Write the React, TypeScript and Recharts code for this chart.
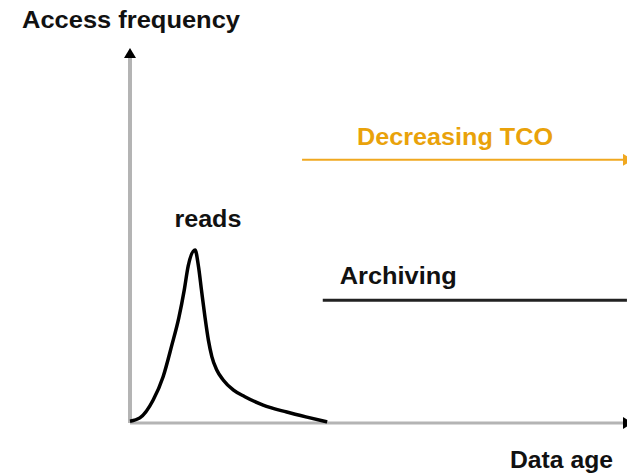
import React from "react";
import { LineChart, Line, XAxis, YAxis, ReferenceLine, ReferenceDot } from "recharts";

// Curve of access frequency versus data age
const ages = [0, 2.0, 4.7, 6.7, 8.5, 9.9, 11.0, 11.8, 13.2, 13.9, 14.5, 15.2, 15.9, 16.6, 17.6, 18.9, 21.0, 23.3, 27.0, 31.8, 35.9, 40.0];
const freqs = [0.5, 1.4, 6.3, 12.6, 21.4, 28.8, 36.4, 43.0, 47.4, 42.8, 36.4, 29.1, 22.7, 18.2, 14.5, 11.8, 9.0, 7.2, 4.9, 3.0, 1.6, 0.3];

// Axis extents
const ageDomain = [0, 100];
const freqDomain = [0, 100];

// Horizontal annotation lines: [startAge, endAge], level
const tcoRange = [34.9, 100];
const tcoLevel = 72.1;
const archRange = [39.1, 100.8];
const archLevel = 33.6;

// Text labels
const yTitle = "Access frequency";
const xTitle = "Data age";
const tcoLabel = "Decreasing TCO";
const archLabel = "Archiving";
const peakLabel = "reads";
const peakLabelPos = { age: 15.8, freq: 53.7 };

const data = ages.map((a, i) => ({ age: a, freq: freqs[i] }));

const FONT = "'Liberation Sans', Arial, sans-serif";
const ORANGE = "#f0a820";
const ORANGE_TEXT = "#e9a20a";
const TEXT = "#111";
const AXIS = "#b4b4b4";

export default function App() {
  return (
    <div style={{ position: "absolute", left: 0, top: 0, width: 627, height: 473, background: "#fff" }}>
      <LineChart
        width={627}
        height={473}
        data={data}
        margin={{ top: 58, right: 4, bottom: 50, left: 130 }}
      >
        <defs>
          <marker id="arrowBlack" viewBox="0 0 10 12" refX="0" refY="6" markerWidth="10" markerHeight="12" markerUnits="userSpaceOnUse" orient="auto-start-reverse">
            <path d="M0,0 L10,6 L0,12 Z" fill="#000" />
          </marker>
          <marker id="arrowOrange" viewBox="0 0 10 12" refX="0" refY="6" markerWidth="10" markerHeight="12" markerUnits="userSpaceOnUse" orient="auto-start-reverse">
            <path d="M0,0 L10,6 L0,12 Z" fill={ORANGE} />
          </marker>
        </defs>
        <XAxis type="number" dataKey="age" domain={ageDomain} hide />
        <YAxis type="number" domain={freqDomain} hide />
        {/* x axis */}
        <ReferenceLine
          segment={[{ x: ageDomain[0], y: freqDomain[0] }, { x: ageDomain[1], y: freqDomain[0] }]}
          stroke={AXIS}
          strokeWidth={3}
          ifOverflow="visible"
          markerEnd="url(#arrowBlack)"
          label={(p: any) => {
            const vb = p.viewBox || {};
            return (
              <text x={vb.x + vb.width - 10} y={vb.y + 45} textAnchor="end" fontFamily={FONT} fontWeight="bold" fontSize={24} fill={TEXT} textLength={103} lengthAdjust="spacingAndGlyphs">
                {xTitle}
              </text>
            );
          }}
        />
        {/* y axis */}
        <ReferenceLine
          segment={[{ x: ageDomain[0], y: freqDomain[0] }, { x: ageDomain[0], y: freqDomain[1] }]}
          stroke={AXIS}
          strokeWidth={4}
          ifOverflow="visible"
          markerEnd="url(#arrowBlack)"
          label={(p: any) => {
            const vb = p.viewBox || {};
            return (
              <text x={vb.x - 108} y={vb.y - 30} textAnchor="start" fontFamily={FONT} fontWeight="bold" fontSize={24} fill={TEXT} textLength={218} lengthAdjust="spacingAndGlyphs">
                {yTitle}
              </text>
            );
          }}
        />
        <ReferenceLine
          segment={[{ x: tcoRange[0], y: tcoLevel }, { x: tcoRange[1], y: tcoLevel }]}
          stroke={ORANGE}
          strokeWidth={2}
          ifOverflow="visible"
          markerEnd="url(#arrowOrange)"
          label={(p: any) => {
            const vb = p.viewBox || {};
            return (
              <text x={vb.x + 153} y={vb.y - 15} textAnchor="middle" fontFamily={FONT} fontWeight="bold" fontSize={23} fill={ORANGE_TEXT} textLength={196} lengthAdjust="spacingAndGlyphs">
                {tcoLabel}
              </text>
            );
          }}
        />
        <ReferenceLine
          segment={[{ x: archRange[0], y: archLevel }, { x: archRange[1], y: archLevel }]}
          stroke="#222"
          strokeWidth={3}
          ifOverflow="visible"
          label={(p: any) => {
            const vb = p.viewBox || {};
            return (
              <text x={vb.x + 17} y={vb.y - 16} textAnchor="start" fontFamily={FONT} fontWeight="bold" fontSize={24} fill={TEXT} textLength={117} lengthAdjust="spacingAndGlyphs">
                {archLabel}
              </text>
            );
          }}
        />
        <Line
          type="monotone"
          dataKey="freq"
          stroke="#000"
          strokeWidth={3.5}
          dot={false}
          activeDot={false}
          isAnimationActive={false}
        />
        <ReferenceDot
          x={peakLabelPos.age}
          y={peakLabelPos.freq}
          ifOverflow="visible"
          shape={(p: any) => (
            <text x={p.cx} y={p.cy} textAnchor="middle" fontFamily={FONT} fontWeight="bold" fontSize={23} fill={TEXT} textLength={67} lengthAdjust="spacingAndGlyphs">
              {peakLabel}
            </text>
          )}
        />
      </LineChart>
    </div>
  );
}
